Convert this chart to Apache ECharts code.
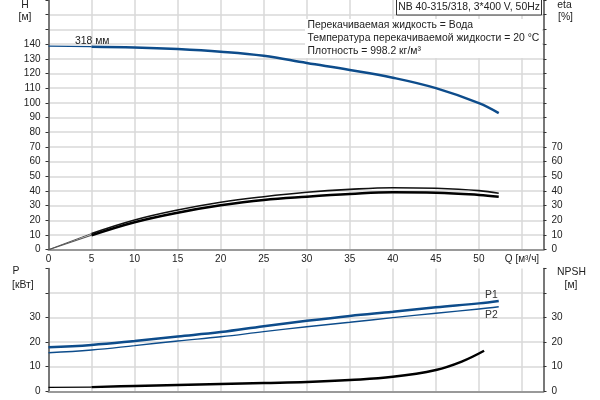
<!DOCTYPE html>
<html>
<head>
<meta charset="utf-8">
<script src="https://cdn.jsdelivr.net/npm/echarts@6/dist/echarts.min.js"></script>
<style>html,body{margin:0;padding:0;background:#fff}#c{width:600px;height:400px}</style>
</head>
<body>
<div id="c"></div>
<script>
// ---- data ----
const qTicks = [0, 5, 10, 15, 20, 25, 30, 35, 40, 45, 50, 55];
const qFlow = [0, 5, 10, 15, 20, 25, 30, 35, 40, 45, 50, 52.3];
const head = [138.6, 138.2, 137.7, 136.6, 134.8, 132.0, 127.1, 122.4, 117.1, 110.0, 99.8, 93.0];
const etaUpper = [0, 11.0, 20.2, 27.0, 32.3, 36.1, 39.1, 41.1, 42.2, 41.8, 40.2, 38.4];
const etaLower = [0, 9.8, 18.7, 25.2, 30.2, 33.9, 36.1, 37.9, 39.1, 38.8, 37.3, 36.0];
const p1 = [17.9, 18.9, 20.5, 22.3, 24.1, 26.5, 28.7, 30.7, 32.4, 34.2, 35.8, 36.8];
const p2 = [15.7, 16.8, 18.6, 20.5, 22.2, 24.3, 26.3, 28.1, 30.0, 31.8, 33.5, 34.4];
const qNpsh = [0, 5, 10, 15, 20, 25, 30, 35, 40, 45, 48, 50.6];
const npsh = [1.6, 1.7, 2.2, 2.6, 3.0, 3.4, 3.8, 4.6, 5.9, 8.7, 12.1, 16.5];
const hLabels = [0, 10, 20, 30, 40, 50, 60, 70, 80, 90, 100, 110, 120, 130, 140];
const etaLabels = [0, 10, 20, 30, 40, 50, 60, 70];
const pLabels = [0, 10, 20, 30];
const npshLabels = [0, 10, 20, 30];
const qUnitLabel = 'Q [м³/ч]';

// ---- styling ----
const FONT = 'Arial, "Liberation Sans", sans-serif';
const BLUE = '#0d4c8b';
const TXT = '#222';
const GRIDC = '#d9d9d9';
const F = '10.4px ' + FONT;

function pairs(xs, ys, a, b) {
  const out = [];
  for (let i = a; i <= b; i++) out.push([xs[i], ys[i]]);
  return out;
}
function yAxisCfg(grid, pos, max, labels) {
  return {
    type: 'value', gridIndex: grid, position: pos, min: 0, max: max, interval: 10,
    axisLine: { show: true, lineStyle: { color: '#555', width: 1.5 } },
    axisTick: { show: true, length: 3, lineStyle: { color: '#333' } },
    axisLabel: {
      margin: 8, color: TXT, fontSize: 10, fontFamily: FONT,
      formatter: v => labels.indexOf(v) >= 0 ? String(v) : ''
    },
    splitLine: { show: pos === 'left', showMaxLine: false, lineStyle: { color: GRIDC, width: 1.5 } }
  };
}
function xAxisCfg(grid, showLabels) {
  return {
    type: 'value', gridIndex: grid, min: 0, max: 57.5, interval: 5,
    axisLine: { show: true, onZero: false, lineStyle: { color: '#999', width: 2 } },
    axisTick: { show: false },
    axisLabel: {
      show: showLabels, margin: 5, color: TXT, fontSize: 10, fontFamily: FONT,
      showMaxLabel: false,
      formatter: v => v === 55 ? qUnitLabel : (qTicks.indexOf(v) >= 0 ? String(v) : '')
    },
    splitLine: { show: true, lineStyle: { color: GRIDC, width: 1.5 } }
  };
}
function line(name, xi, yi, data, color, width) {
  return {
    name: name, type: 'line', xAxisIndex: xi, yAxisIndex: yi, data: data,
    smooth: 0.4, symbol: 'none', silent: true,
    lineStyle: { color: color, width: width }
  };
}
function txt(x, y, s, align, fill) {
  return { type: 'text', x: x, y: y, z: 51, style: { text: s, fill: fill || TXT, font: F, textAlign: align || 'left', textVerticalAlign: 'middle' } };
}
const last = qFlow.length - 1;

const option = {
  animation: false,
  backgroundColor: '#fff',
  grid: [
    { left: 48.5, right: 56.5, top: 0, height: 249.7 },
    { left: 48.5, right: 56.5, top: 268.5, height: 122.8 }
  ],
  xAxis: [xAxisCfg(0, true), xAxisCfg(1, false)],
  yAxis: [
    yAxisCfg(0, 'left', 170, hLabels),
    yAxisCfg(0, 'right', 170, etaLabels),
    yAxisCfg(1, 'left', 50, pLabels),
    yAxisCfg(1, 'right', 50, npshLabels)
  ],
  series: [
    line('H0', 0, 0, pairs(qFlow, head, 0, 1), BLUE, 1.2),
    line('H', 0, 0, pairs(qFlow, head, 1, last), BLUE, 2.5),
    line('etaU0', 0, 1, pairs(qFlow, etaUpper, 0, 1), '#555', 1),
    line('etaU', 0, 1, pairs(qFlow, etaUpper, 1, last), '#111', 1.6),
    line('etaL0', 0, 1, pairs(qFlow, etaLower, 0, 1), '#555', 1.2),
    line('etaL', 0, 1, pairs(qFlow, etaLower, 1, last), '#000', 2.5),
    line('P1', 1, 2, pairs(qFlow, p1, 0, last), BLUE, 2.5),
    line('P2', 1, 2, pairs(qFlow, p2, 0, last), BLUE, 1.4),
    line('NPSH0', 1, 3, pairs(qNpsh, npsh, 0, 1), '#000', 1.2),
    line('NPSH', 1, 3, pairs(qNpsh, npsh, 1, qNpsh.length - 1), '#000', 2.5)
  ],
  graphic: [
    { type: 'rect', shape: { x: 305, y: 19, width: 237, height: 39 }, style: { fill: '#fff' }, z: 50 },
    { type: 'rect', shape: { x: 396.5, y: -0.5, width: 145, height: 15.5 }, style: { fill: '#fff', stroke: '#333', lineWidth: 1 }, z: 50 },
    txt(469, 7.5, 'NB 40-315/318, 3*400 V, 50Hz', 'center'),
    txt(307.5, 25.5, 'Перекачиваемая жидкость = Вода'),
    txt(307.5, 38.5, 'Температура перекачиваемой жидкости = 20 °C'),
    txt(307.5, 51.5, 'Плотность = 998.2 кг/м³'),
    txt(75, 41.5, '318 мм'),
    txt(25, 5, 'H', 'center'),
    txt(25, 17.5, '[м]', 'center'),
    txt(564.5, 5, 'eta', 'center'),
    txt(565.5, 17.5, '[%]', 'center'),
    txt(12.5, 271.5, 'P'),
    txt(12, 285, '[кВт]'),
    txt(571.5, 272, 'NPSH', 'center'),
    txt(571, 285.5, '[м]', 'center'),
    txt(485, 295, 'P1', 'left', '#333'),
    txt(485, 315.5, 'P2', 'left', '#333')
  ]
};
const chart = echarts.init(document.getElementById('c'), null, { renderer: 'canvas' });
chart.setOption(option);
</script>
</body>
</html>
